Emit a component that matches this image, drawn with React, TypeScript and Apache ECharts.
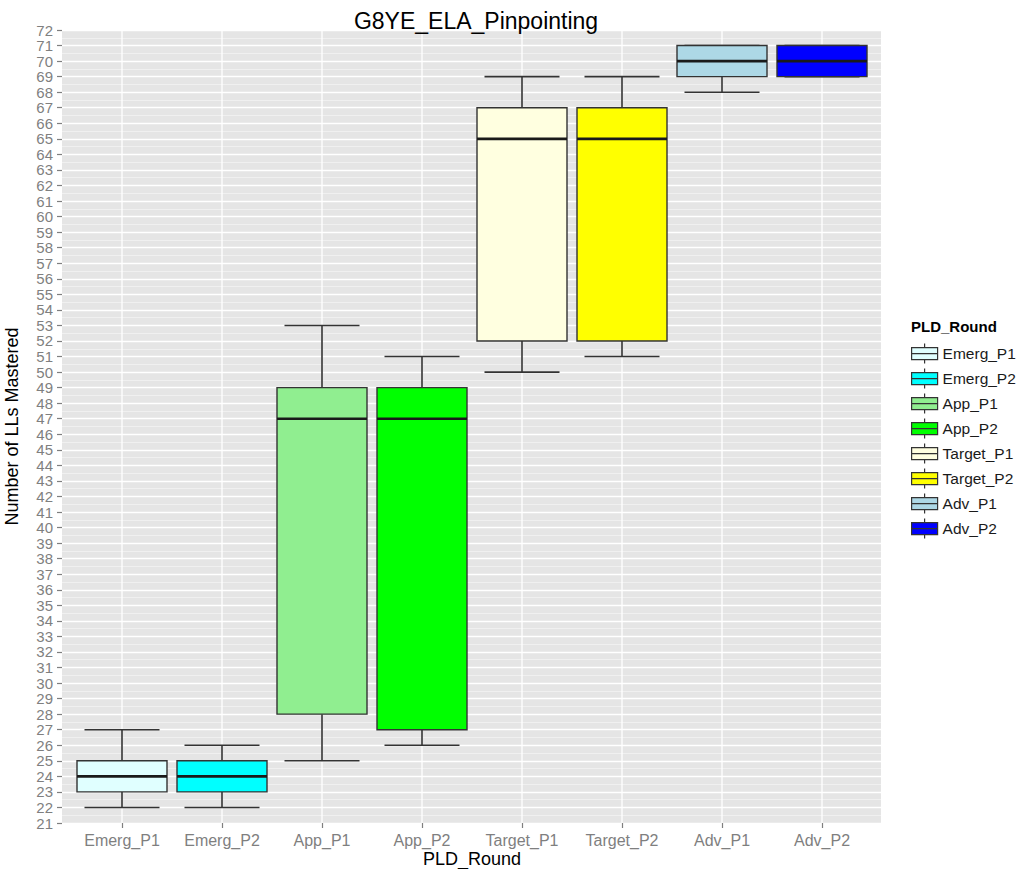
import React, { useEffect, useRef } from "react";
import * as echarts from "echarts";

const categories = ["Emerg_P1", "Emerg_P2", "App_P1", "App_P2", "Target_P1", "Target_P2", "Adv_P1", "Adv_P2"];
const whiskerLow = [22, 22, 25, 26, 50, 51, 68, 69];
const q1 = [23, 23, 28, 27, 52, 52, 69, 69];
const median = [24, 24, 47, 47, 65, 65, 70, 70];
const q3 = [25, 25, 49, 49, 67, 67, 71, 71];
const whiskerHigh = [27, 26, 53, 51, 69, 69, 71, 71];
const fills = ["#E0FFFF", "#00FFFF", "#90EE90", "#00FF00", "#FFFFE0", "#FFFF00", "#ADD8E6", "#0000FF"];

const Y_MIN = 21;
const Y_MAX = 72;
const FONT = "'Liberation Sans', Arial, Helvetica, sans-serif";
const OUTLINE = "#333333";

export default function App() {
  const ref = useRef<HTMLDivElement>(null);

  useEffect(() => {
    if (!ref.current) return;
    const chart = echarts.init(ref.current, undefined, { renderer: "svg" });

    const boxSeries = categories.map((name, i) => ({
      type: "custom",
      name,
      xAxisIndex: 1,
      yAxisIndex: 1,
      z: 3,
      itemStyle: { color: fills[i], borderColor: OUTLINE },
      encode: { x: 0, y: [1, 2, 3, 4, 5] },
      data: [[i, whiskerLow[i], q1[i], median[i], q3[i], whiskerHigh[i]]],
      renderItem: (params: any, api: any) => {
        const x = api.value(0);
        const bw = api.size([1, 0])[0];
        const half = bw * 0.45;
        const capHalf = bw * 0.375;
        const pLow = api.coord([x, api.value(1)]);
        const pQ1 = api.coord([x, api.value(2)]);
        const pMed = api.coord([x, api.value(3)]);
        const pQ3 = api.coord([x, api.value(4)]);
        const pHigh = api.coord([x, api.value(5)]);
        const cx = pMed[0];
        const lineStyle = { stroke: OUTLINE, lineWidth: 1.6 };
        return {
          type: "group",
          children: [
            { type: "line", shape: { x1: cx, y1: pQ3[1], x2: cx, y2: pHigh[1] }, style: lineStyle },
            { type: "line", shape: { x1: cx, y1: pQ1[1], x2: cx, y2: pLow[1] }, style: lineStyle },
            { type: "line", shape: { x1: cx - capHalf, y1: pHigh[1], x2: cx + capHalf, y2: pHigh[1] }, style: lineStyle },
            { type: "line", shape: { x1: cx - capHalf, y1: pLow[1], x2: cx + capHalf, y2: pLow[1] }, style: lineStyle },
            {
              type: "rect",
              shape: { x: cx - half, y: pQ3[1], width: half * 2, height: pQ1[1] - pQ3[1] },
              style: { fill: fills[i], stroke: OUTLINE, lineWidth: 1.4 },
            },
            { type: "line", shape: { x1: cx - half, y1: pMed[1], x2: cx + half, y2: pMed[1] }, style: { stroke: "#1a1a1a", lineWidth: 2.6 } },
          ],
        };
      },
    }));

    const option: any = {
      animation: false,
      backgroundColor: "#ffffff",
      textStyle: { fontFamily: FONT },
      title: [
        {
          text: "G8YE_ELA_Pinpointing",
          left: 471,
          textAlign: "center",
          top: 4,
          textStyle: { fontSize: 23, fontWeight: "normal", color: "#000000", fontFamily: FONT },
        },
        {
          text: "PLD_Round",
          left: 906,
          top: 314,
          textStyle: { fontSize: 15, fontWeight: "bold", color: "#000000", fontFamily: FONT },
        },
      ],
      legend: {
        data: categories,
        orient: "vertical",
        left: 906,
        top: 338,
        itemWidth: 26,
        itemHeight: 20,
        itemGap: 3.8,
        icon: "path://M0,4 L26,4 L26,16 L0,16 Z M0,10 L26,10 M13,0 L13,4 M13,16 L13,20",
        itemStyle: { borderColor: OUTLINE, borderWidth: 1.2 },
        textStyle: { fontSize: 15.5, color: "#1a1a1a", fontFamily: FONT },
        selectedMode: false,
      },
      grid: [
        { left: 62, right: 144, top: 30, bottom: 46, show: true, backgroundColor: "#E5E5E5", borderWidth: 0, containLabel: false, outerBoundsMode: "none" },
        { left: 72, right: 153, top: 30, bottom: 46, show: false, containLabel: false, outerBoundsMode: "none" },
      ],
      xAxis: [
        { type: "value", gridIndex: 0, min: 0.4, max: 8.6, show: false },
        {
          type: "category",
          gridIndex: 1,
          data: categories,
          boundaryGap: true,
          axisLine: { show: false },
          axisTick: { show: true, alignWithLabel: true, length: 5, lineStyle: { color: "#7f7f7f", width: 1.2 } },
          axisLabel: { fontSize: 16, color: "#7f7f7f", margin: 9, fontFamily: FONT },
          splitLine: { show: false },
          name: "PLD_Round",
          nameLocation: "middle",
          nameGap: 27,
          nameMoveOverlap: false,
          nameTextStyle: { fontSize: 18, color: "#000000", fontFamily: FONT },
        },
      ],
      yAxis: [
        {
          type: "value",
          gridIndex: 0,
          min: Y_MIN,
          max: Y_MAX,
          interval: 1,
          axisLine: { show: false },
          axisTick: { show: true, length: 5, lineStyle: { color: "#7f7f7f", width: 1.2 } },
          axisLabel: { fontSize: 15, color: "#7f7f7f", margin: 9, fontFamily: FONT },
          splitLine: { show: true, lineStyle: { color: "#ffffff", width: 1.3 } },
          minorTick: { show: false, splitNumber: 2 },
          minorSplitLine: { show: true, lineStyle: { color: "#F2F2F2", width: 0.8 } },
          name: "Number of LLs Mastered",
          nameLocation: "middle",
          nameRotate: 90,
          nameGap: 41,
          nameMoveOverlap: false,
          nameTextStyle: { fontSize: 18, color: "#000000", fontFamily: FONT },
        },
        { type: "value", gridIndex: 1, min: Y_MIN, max: Y_MAX, show: false },
      ],
      series: [
        {
          type: "custom",
          name: "vgrid",
          xAxisIndex: 1,
          yAxisIndex: 1,
          silent: true,
          z: 1,
          encode: { x: 0, y: 1 },
          data: categories.map((_, i) => [i, Y_MIN]),
          renderItem: (params: any, api: any) => {
            const x = api.value(0);
            const top = api.coord([x, Y_MAX]);
            const bottom = api.coord([x, Y_MIN]);
            return {
              type: "line",
              shape: { x1: top[0], y1: top[1], x2: bottom[0], y2: bottom[1] },
              style: { stroke: "#ffffff", lineWidth: 1.3 },
            };
          },
        },
        ...boxSeries,
      ],
    };

    chart.setOption(option);
    return () => chart.dispose();
  }, []);

  return <div ref={ref} style={{ position: "absolute", left: 0, top: 0, width: 1025, height: 869 }} />;
}
